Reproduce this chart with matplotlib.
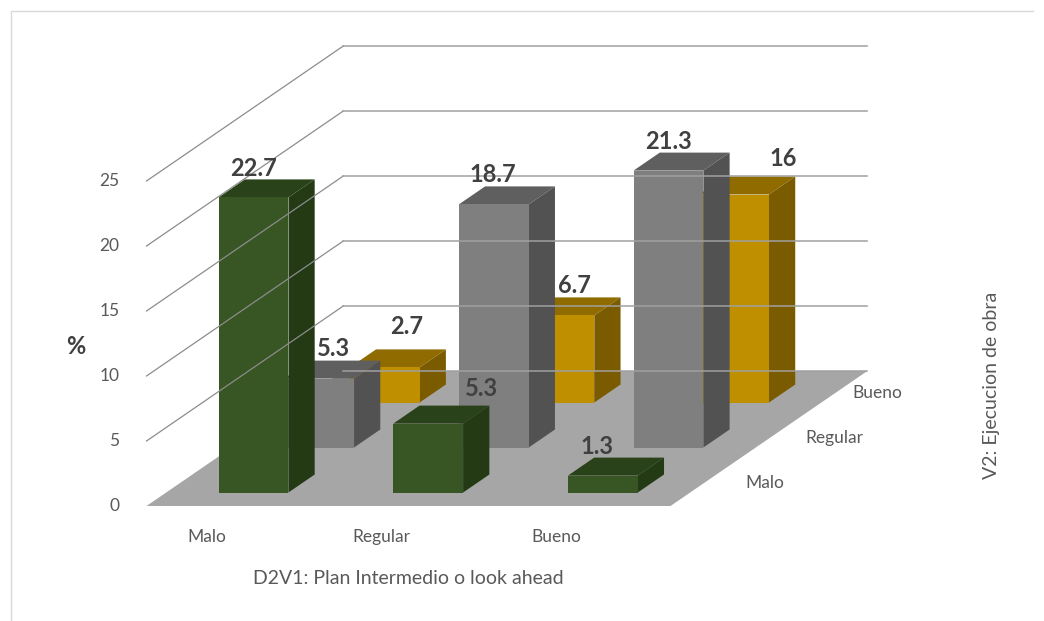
#!/usr/bin/env python3
"""Barras 3D (proyeccion oblicua) D2V1 vs V2, en % de casos."""
import matplotlib
matplotlib.use("Agg")
import matplotlib.pyplot as plt
from matplotlib.patches import Polygon

plt.rcParams["font.family"] = ["Lato", "DejaVu Sans"]

categories = ["Malo", "Regular", "Bueno"]
series_names = ["Malo", "Regular", "Bueno"]
v2_malo = [22.7, 5.3, 1.3]
v2_regular = [5.3, 18.7, 21.3]
v2_bueno = [2.7, 6.7, 16]
value_ticks = [0, 5, 10, 15, 20, 25]

# estilo por serie: frente, tapa, lateral
COLORS = [
    ("#375623", "#2a4219", "#233a15"),
    ("#7f7f7f", "#5f5f5f", "#525252"),
    ("#bf8f00", "#8f6b00", "#7a5b00"),
]
TEXT = "#595959"
LABEL = "#404040"

# proyeccion oblicua (pixeles)
X0, Y0 = 146.5, 506
CAT_W, ROW_DX, ROW_DY, UNIT = 174.67, 65.6, 45, 13


def proj(cat, row, val):
    return X0 + CAT_W * cat + ROW_DX * row, Y0 - UNIT * val - ROW_DY * row


def face(*pts, **kw):
    ax.add_patch(Polygon([proj(*p) for p in pts], closed=True, lw=0, **kw))


def draw_bar(cat, row, val, cols):
    x0, x1 = cat + 0.3, cat + 0.7
    r0, r1 = row + 0.3, row + 0.7
    face((x0, r0, val), (x1, r0, val), (x1, r1, val), (x0, r1, val), fc=cols[1])
    face((x1, r0, 0), (x1, r1, 0), (x1, r1, val), (x1, r0, val), fc=cols[2])
    face((x0, r0, 0), (x1, r0, 0), (x1, r0, val), (x0, r0, val), fc=cols[0])


fig = plt.figure(figsize=(10.44, 6.21), dpi=100)
ax = fig.add_axes([0, 0, 1, 1])
ax.set_xlim(0, 1044)
ax.set_ylim(621, 0)
ax.axis("off")

# marco del grafico
ax.plot([10.5, 10.5, 1033], [621, 10.5, 10.5], color="#d9d9d9", lw=1)

# piso
face((0, 0, 0), (3, 0, 0), (3, 3, 0), (0, 3, 0), fc="#a6a6a6")

# rejilla
for v in value_ticks:
    if v > 0:
        xs, ys = zip(proj(0, 0, v), proj(0, 3, v))
        ax.plot(xs, ys, color="#8c8c8c", lw=0.9)
    xs, ys = zip(proj(0, 3, v), proj(3, 3, v))
    ax.plot(xs, ys, color="#a0a0a0", lw=1.1)
    x, y = proj(0, 0, v)
    ax.text(x - 27, y, str(v), ha="right", va="center", fontsize=12.5, color=TEXT)

rows = [v2_malo, v2_regular, v2_bueno]
for r in (2, 1, 0):
    for c, val in enumerate(rows[r]):
        draw_bar(c, r, val, COLORS[r])

# etiquetas de datos: desplazamiento manual (px) desde la tapa
offsets = {
    (0, 0): (0, -11), (1, 0): (53, -17), (2, 0): (-6, -11),
    (0, 1): (14, -12), (1, 1): (-1, -12), (2, 1): (0, -11),
    (0, 2): (22, -23), (1, 2): (15, -12), (2, 2): (49, -18),
}
for r, vals in enumerate(rows):
    for c, val in enumerate(vals):
        x, _ = proj(c + 0.5, r + 0.3, val)
        _, y = proj(c + 0.5, r + 0.7, val)
        dx, dy = offsets[(c, r)]
        ax.text(x + dx, y + dy, f"{val:g}", ha="center", va="center",
                fontsize=17, fontweight="bold", color=LABEL)

# etiquetas de ejes
for c, name in enumerate(categories):
    x, _ = proj(c + 0.5, 0, 0)
    ax.text(x - 27, 537, name, ha="center", va="center", fontsize=12.5, color=TEXT)
for r, name in enumerate(series_names):
    x, y = proj(3, r + 0.5, 0)
    ax.text(x + 62 if r == 0 else x + 36 if r == 1 else x + 18,
            y + 0 if r == 0 else y + 0, name,
            ha="center" if r == 0 else "left", va="center",
            fontsize=12.5, color=TEXT)

ax.text(408, 579, "D2V1: Plan Intermedio o look ahead", ha="center", va="center",
        fontsize=14, color=TEXT)
ax.text(992, 385, "V2: Ejecucion de obra", ha="center", va="center",
        rotation=90, fontsize=14, color=TEXT)
ax.text(76, 346, "%", ha="center", va="center", fontsize=17, fontweight="bold", color=LABEL)

fig.savefig("out.png", dpi=100)
